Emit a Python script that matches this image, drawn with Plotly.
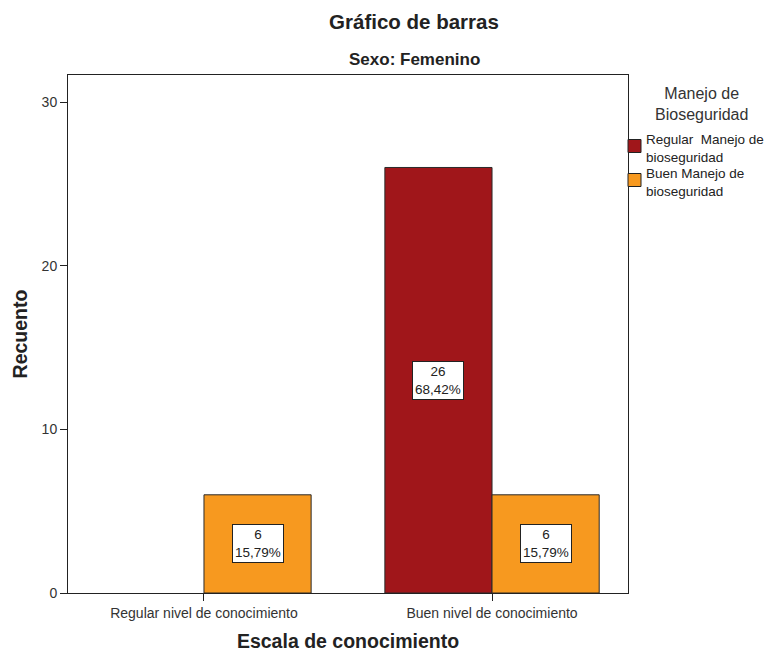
import plotly.graph_objects as go

# Counts per knowledge level, split by biosafety handling level
categories = ["Regular nivel de conocimiento", "Buen nivel de conocimiento"]
series_names = ["Regular\u00a0 Manejo de<br>bioseguridad", "Buen Manejo de<br>bioseguridad"]
regular_manejo = [0, 26]
buen_manejo = [6, 6]
series_values = [regular_manejo, buen_manejo]
series_colors = ["#a0161a", "#f7991f"]
y_ticks = [0, 10, 20, 30]

FONT = "Liberation Sans, Arial, sans-serif"
INK = "#222222"

W, H = 770, 652
ML, MR, MT, MB = 68, 142, 75, 59
PW, PH = W - ML - MR, H - MT - MB

BAR_W = 0.372
offsets = [-BAR_W, 0.0]

total = sum(sum(v) for v in series_values)


def px_x(p):
    return (p - ML) / PW


def px_y(p):
    return (H - MB - p) / PH


fig = go.Figure()
annotations = []

for name, vals, color, off in zip(series_names, series_values, series_colors, offsets):
    fig.add_trace(go.Bar(
        x=categories, y=vals, name=name.replace("<br>", " "),
        width=BAR_W, offset=off,
        marker=dict(color=color,
                    line=dict(color="#2a2a2a", width=[0 if v == 0 else 1 for v in vals])),
        showlegend=False, hoverinfo="x+y",
    ))
    for i, v in enumerate(vals):
        if v == 0:
            continue
        pct = f"{v / total * 100:.2f}".replace(".", ",") + "%"
        annotations.append(dict(
            x=i + off + BAR_W / 2, y=v / 2, xref="x", yref="y",
            text=f"{v}<br>{pct}", showarrow=False,
            font=dict(family=FONT, size=13.5, color=INK),
            bgcolor="white", bordercolor="#222222", borderwidth=1, borderpad=2,
            xanchor="center", yanchor="middle",
        ))

# Subtitle
annotations.append(dict(
    x=px_x(414), y=px_y(60), xref="paper", yref="paper",
    text="<b>Sexo: Femenino</b>", showarrow=False,
    font=dict(family=FONT, size=17, color=INK),
    xanchor="center", yanchor="middle",
))

# Legend title
annotations.append(dict(
    x=px_x(701), y=px_y(104), xref="paper", yref="paper",
    text="Manejo de<br>Bioseguridad", showarrow=False, align="center",
    font=dict(family=FONT, size=16, color="#333333"),
    xanchor="center", yanchor="middle",
))

# Legend entries: swatch plus wrapped label
shapes = []
legend_rows = [146, 180]
for name, color, yc in zip(series_names, series_colors, legend_rows):
    shapes.append(dict(
        type="rect", xref="paper", yref="paper",
        x0=px_x(628), x1=px_x(641), y0=px_y(yc - 6.5), y1=px_y(yc + 6.5),
        fillcolor=color, line=dict(color="#222222", width=1),
    ))
    annotations.append(dict(
        x=px_x(644), y=px_y(yc + 2), xref="paper", yref="paper",
        text=name, showarrow=False, align="left",
        font=dict(family=FONT, size=13.5, color=INK),
        xanchor="left", yanchor="middle",
    ))

fig.update_layout(
    width=W, height=H,
    margin=dict(l=ML, r=MR, t=MT, b=MB, autoexpand=False),
    paper_bgcolor="white", plot_bgcolor="white",
    font=dict(family=FONT, color=INK),
    title=dict(
        text="<b>Gráfico de barras</b>", x=414 / W, y=1 - 22 / H,
        xref="container", yref="container", xanchor="center", yanchor="middle",
        font=dict(family=FONT, size=20.5, color=INK),
    ),
    xaxis=dict(
        type="category", range=[-0.472, 1.472],
        showline=True, linecolor=INK, linewidth=1, mirror=True,
        ticks="outside", ticklen=7, tickcolor=INK,
        tickfont=dict(family=FONT, size=14, color="#333333"),
        showgrid=False, zeroline=False,
        title=dict(text="<b>Escala de conocimiento</b>", standoff=14,
                   font=dict(family=FONT, size=19.5, color=INK)),
    ),
    yaxis=dict(
        range=[0, 31.65], tickvals=y_ticks,
        showline=True, linecolor=INK, linewidth=1, mirror=True,
        ticks="outside", ticklen=7, tickcolor=INK,
        tickfont=dict(family=FONT, size=14, color="#333333"),
        showgrid=False, zeroline=False,
        title=dict(text="<b>Recuento</b>", standoff=8,
                   font=dict(family=FONT, size=19.5, color=INK)),
    ),
    annotations=annotations,
    shapes=shapes,
)

fig.write_html("out.html")
